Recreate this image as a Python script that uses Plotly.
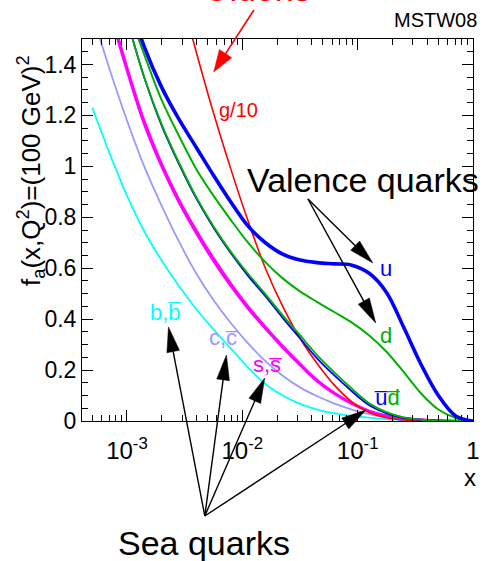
import math
import plotly.graph_objects as go

# ---------------- data ----------------
# common log-spaced x grid (x = Bjorken x)
X = [5.01e-4, 7.08e-4, 1.0e-3, 1.41e-3, 2.0e-3, 2.82e-3, 3.98e-3, 5.62e-3, 7.94e-3,
     0.01122, 0.01585, 0.02239, 0.03162, 0.04467, 0.0631, 0.08913, 0.1259, 0.1778,
     0.2512, 0.3548, 0.5012, 0.7079, 1.0]

# x f(x) at Q^2 = 10^4 GeV^2 (values above 1.5 are off the top of the frame)
f_b = [1.23, 1.05, 0.885, 0.745, 0.63, 0.53, 0.44, 0.36, 0.285, 0.21, 0.145, 0.10,
       0.067, 0.045, 0.03, 0.02, 0.013, 0.007, 0.0035, 0.0015, 0.0005, 0.0001, 0.0]
f_c = [1.60, 1.38, 1.18, 1.0, 0.845, 0.705, 0.58, 0.475, 0.385, 0.305, 0.235, 0.178,
       0.132, 0.097, 0.068, 0.045, 0.027, 0.015, 0.008, 0.003, 0.001, 0.0002, 0.0]
f_s = [1.90, 1.63, 1.39, 1.18, 1.01, 0.87, 0.75, 0.64, 0.54, 0.45, 0.37, 0.295,
       0.225, 0.16, 0.11, 0.07, 0.04, 0.021, 0.011, 0.005, 0.002, 0.0005, 0.0]
f_sbar = [1.88, 1.61, 1.375, 1.165, 0.998, 0.858, 0.738, 0.628, 0.53, 0.441, 0.362, 0.288,
          0.219, 0.155, 0.106, 0.067, 0.038, 0.02, 0.01, 0.005, 0.002, 0.0005, 0.0]
f_ubar = [2.15, 1.85, 1.58, 1.35, 1.16, 1.01, 0.875, 0.76, 0.66, 0.57, 0.49, 0.405,
          0.325, 0.245, 0.178, 0.117, 0.062, 0.03, 0.012, 0.005, 0.0015, 0.0003, 0.0]
f_dbar = [2.15, 1.85, 1.58, 1.35, 1.165, 1.015, 0.88, 0.765, 0.665, 0.578, 0.498, 0.415,
          0.337, 0.258, 0.19, 0.127, 0.07, 0.035, 0.014, 0.005, 0.0015, 0.0003, 0.0]
f_d = [2.2, 1.9, 1.63, 1.44, 1.26, 1.12, 0.99, 0.885, 0.79, 0.70, 0.624, 0.56,
       0.509, 0.467, 0.427, 0.386, 0.336, 0.272, 0.192, 0.108, 0.045, 0.012, 0.0]
f_u = [2.25, 1.95, 1.68, 1.47, 1.31, 1.185, 1.075, 0.965, 0.86, 0.765, 0.70, 0.655,
       0.632, 0.622, 0.617, 0.612, 0.58, 0.505, 0.367, 0.222, 0.10, 0.02, 0.0]
f_g10 = [3.9, 3.2, 2.65, 2.2, 1.95, 1.7, 1.45, 1.21, 0.99, 0.785, 0.60, 0.45,
         0.325, 0.225, 0.14, 0.075, 0.033, 0.013, 0.004, 0.001, 0.0002, 0.0, 0.0]

x_tickvals = [1e-3, 1e-2, 1e-1, 1]
x_ticktext = ["10<sup>-3</sup>", "10<sup>-2</sup>", "10<sup>-1</sup>", "1"]
x_minor = [m * 10.0 ** e for e in (-4, -3, -2, -1) for m in range(2, 10)]
y_tickvals = [0, 0.2, 0.4, 0.6, 0.8, 1.0, 1.2, 1.4]
y_ticktext = ["0", "0.2", "0.4", "0.6", "0.8", "1", "1.2", "1.4"]

# ---------------- styling ----------------
FONT = "Liberation Sans, Arial, Helvetica, sans-serif"
W, H = 491, 561
L, R, T, B = 82, 480, 39, 421  # plot frame in pixels

BLUE = "#0000ff"
GREEN = "#00b000"
RED = "#ff0000"
MAG = "#ff00ff"
CYAN = "#00ffff"
LAV = "#9999ff"


def px(xp, yp):
    return (xp - L) / (R - L), (B - yp) / (B - T)


fig = go.Figure()


def add(y, color, width):
    fig.add_trace(go.Scatter(x=X, y=y, mode="lines",
                             line=dict(color=color, width=width, shape="spline", smoothing=1.0),
                             showlegend=False, hoverinfo="skip"))


add(f_b, CYAN, 1.8)
add(f_c, LAV, 1.8)
add(f_s, MAG, 2.4)
add(f_sbar, MAG, 2.4)
add(f_g10, RED, 1.6)
add(f_ubar, BLUE, 1.8)
add(f_dbar, GREEN, 1.8)
add(f_d, GREEN, 2.0)
add(f_u, BLUE, 3.6)

ann = []
shapes = []


def text(xp, yp, s, size, color="black", **kw):
    x, y = px(xp, yp)
    d = dict(x=x, y=y, xref="paper", yref="paper", text=s, showarrow=False,
             font=dict(family=FONT, size=size, color=color), xanchor="center", yanchor="middle")
    d.update(kw)
    ann.append(d)


def arrow(tx, ty, hx, hy, color="black", hl=25, hw=6.5, lw=1.4):
    dx, dy = hx - tx, hy - ty
    n = math.hypot(dx, dy)
    ux, uy = dx / n, dy / n
    bx, by = hx - ux * hl, hy - uy * hl
    x0, y0 = px(tx, ty)
    x1, y1 = px(bx + ux * 2, by + uy * 2)
    shapes.append(dict(type="line", xref="paper", yref="paper", x0=x0, y0=y0, x1=x1, y1=y1,
                       line=dict(color=color, width=lw)))
    pts = [px(hx, hy), px(bx - uy * hw, by + ux * hw), px(bx + uy * hw, by - ux * hw)]
    path = "M {:.5f},{:.5f} L {:.5f},{:.5f} L {:.5f},{:.5f} Z".format(
        pts[0][0], pts[0][1], pts[1][0], pts[1][1], pts[2][0], pts[2][1])
    shapes.append(dict(type="path", xref="paper", yref="paper", path=path,
                       fillcolor=color, line=dict(color=color, width=0.5)))


text(442, 20, "MSTW08", 20)
text(260, 10.5, "Gluons", 34, RED, yanchor="bottom")
arrow(257, 10, 216, 72, RED, hl=22, hw=7.5, lw=1.6)
text(241, 110, "g/10", 20, RED)
text(368, 180, "Valence quarks", 34)
arrow(312, 199, 378, 263)
arrow(312, 199, 381, 323)
text(391, 268, "u", 22, BLUE)
text(391, 335, "d", 22, GREEN)
text(392, 397, "<span style='color:#0000ff'>u\u0305</span><span style='color:#00b000'>d\u0305</span>", 22)
text(167, 312, "b,b\u0305", 22, CYAN)
text(227, 337, "c,c\u0305", 22, LAV)
text(271, 364, "s,s\u0305", 22, MAG)
arrow(207, 516, 170, 327)
arrow(207, 516, 229, 355)
arrow(207, 516, 268, 378)
arrow(207, 516, 371, 410)
text(206, 543, "Sea quarks", 34)
text(477, 477, "x", 24)
text(30, 170, "f<sub>a</sub>(x,Q<sup>2</sup>)=(100 GeV)<sup>2</sup>", 26, textangle=-90)

fig.update_layout(
    width=W, height=H, autosize=False,
    margin=dict(l=L, r=W - R, t=T, b=H - B, pad=0),
    paper_bgcolor="white", plot_bgcolor="white",
    font=dict(family=FONT, color="black"),
    annotations=ann, shapes=shapes,
    xaxis=dict(type="log", range=[-3.39, 0.0], showgrid=False, zeroline=False,
               showline=True, linecolor="black", linewidth=1, mirror="allticks",
               ticks="inside", ticklen=11, tickwidth=1, tickcolor="black",
               tickvals=x_tickvals, ticktext=x_ticktext, tickfont=dict(size=24),
               ticklabelstandoff=8,
               minor=dict(tickvals=x_minor, ticks="inside", ticklen=6, tickwidth=1, tickcolor="black", showgrid=False)),
    yaxis=dict(range=[0, 1.5], showgrid=False, zeroline=False,
               showline=True, linecolor="black", linewidth=1, mirror="allticks",
               ticks="inside", ticklen=11, tickwidth=1, tickcolor="black",
               tickvals=y_tickvals, ticktext=y_ticktext, tickfont=dict(size=23),
               minor=dict(dtick=0.05, tick0=0, ticks="inside", ticklen=6, tickwidth=1, tickcolor="black", showgrid=False)),
)

fig.write_html("out.html")
